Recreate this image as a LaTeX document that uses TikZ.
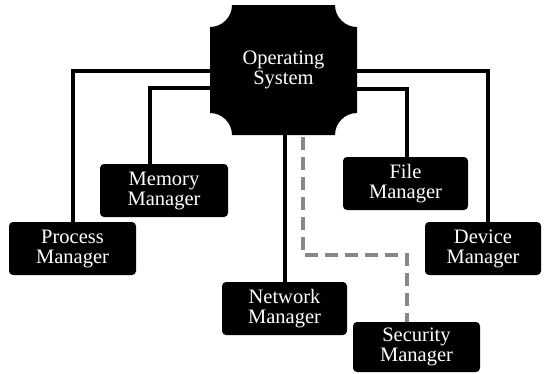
\documentclass[tikz,border=0pt]{standalone}
\usepackage{fontspec}
\setmainfont{Liberation Serif}
\usetikzlibrary{calc}

\tikzset{
  mgr/.style={fill=black, rounded corners=4pt, text=white, align=center,
    inner sep=0pt, font=\fontsize{20.5}{20}\selectfont},
  ostext/.style={text=white, align=center, inner sep=0pt,
    minimum width=147pt, minimum height=130pt, font=\fontsize{20.5}{20}\selectfont},
  link/.style={draw=black, line width=4pt},
  seclink/.style={draw=black!47, line width=4pt, dash pattern=on 13pt off 7pt}
}

\begin{document}
\begin{tikzpicture}[x=1pt, y=-1pt]
  \useasboundingbox (0,0) rectangle (544,373);

  % central block with concave corners
  \fill[black] (232,5) -- (335,5) arc[start angle=180, end angle=90, radius=22]
    -- (357,113) arc[start angle=270, end angle=180, radius=22]
    -- (232,135) arc[start angle=0, end angle=-90, radius=22]
    -- (210,27) arc[start angle=90, end angle=0, radius=22] -- cycle;
  \node[ostext] (os) at (283.5,70) {Operating\\System};

  % managers
  \node[mgr, minimum width=127pt, minimum height=53pt] (pm) at (72.5,248.5) {Process\\Manager};
  \node[mgr, minimum width=128pt, minimum height=53pt] (mm) at (164,190.5) {Memory\\Manager};
  \node[mgr, minimum width=125pt, minimum height=53pt] (fm) at (405.5,183.5) {File\\Manager};
  \node[mgr, minimum width=116pt, minimum height=53pt] (dm) at (483,248.5) {Device\\Manager};
  \node[mgr, minimum width=125pt, minimum height=53pt] (nm) at (284.5,308.5) {Network\\Manager};
  \node[mgr, minimum width=127pt, minimum height=50pt] (sm) at (416.5,347) {Security\\Manager};

  % connectors
  \draw[link] ([yshift=-1pt]os.west) -| (pm.north);
  \draw[link] ([yshift=-18pt]os.west) -| ([xshift=-14pt]mm.north);
  \draw[link] ([yshift=-1pt]os.east) -| ([xshift=5pt]dm.north);
  \draw[link] ([yshift=-19pt]os.east) -| ([xshift=1.5pt]fm.north);
  \draw[link] (os.south -| nm.north) -- (nm.north);
  \draw[seclink] ([xshift=19.5pt,yshift=-2pt]os.south) -- ++(0,118) -| ([xshift=-9.5pt]sm.north);
\end{tikzpicture}
\end{document}
